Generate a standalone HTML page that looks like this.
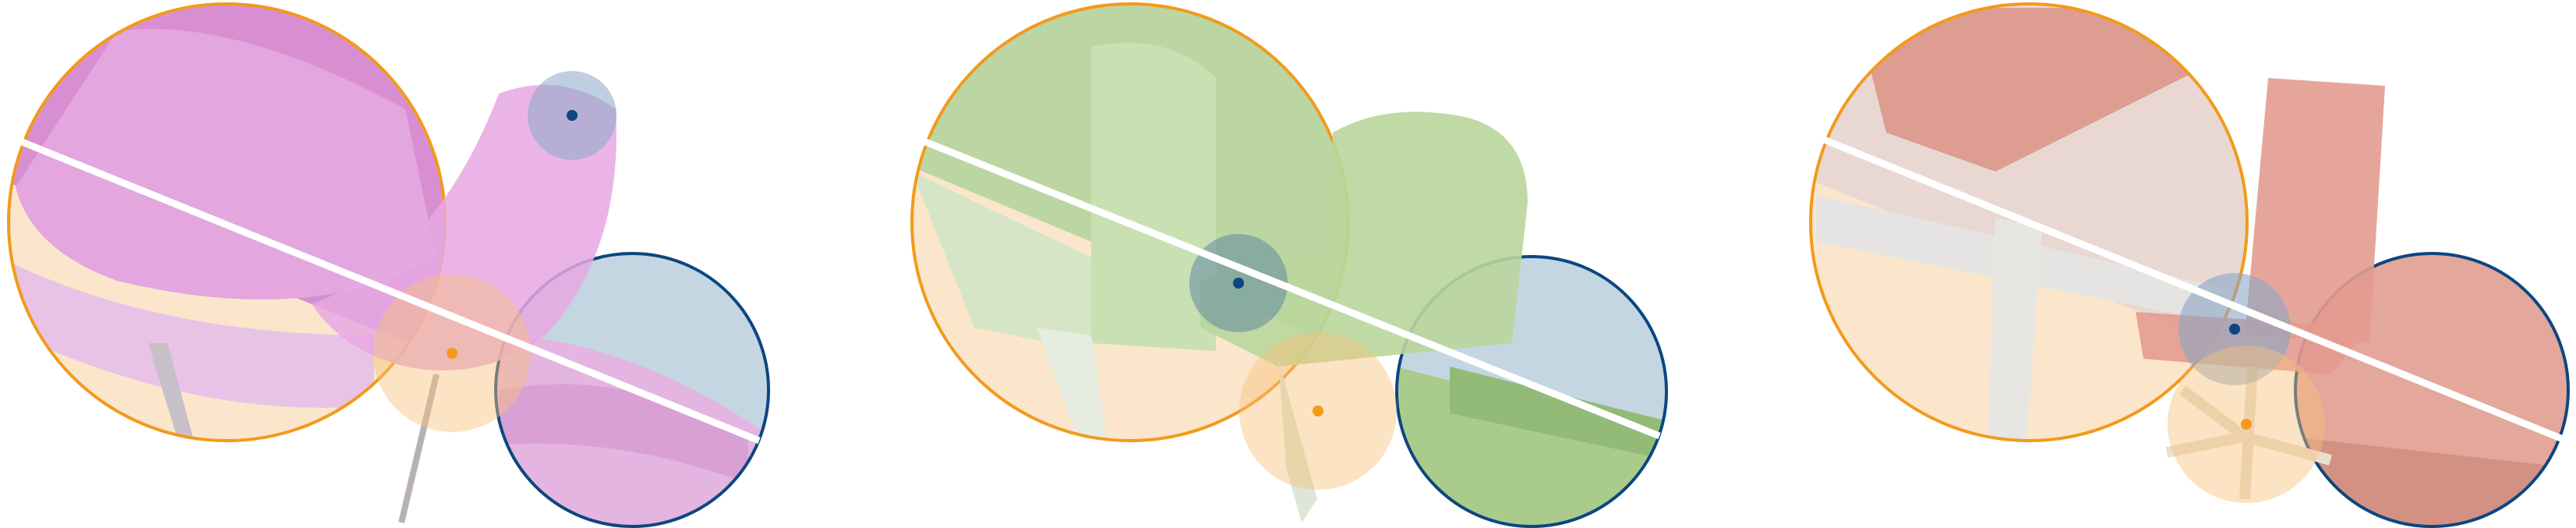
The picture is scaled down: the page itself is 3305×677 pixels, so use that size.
<!DOCTYPE html>
<html><head><meta charset="utf-8"><style>
html,body{margin:0;padding:0;background:#fff;}
svg{display:block;}
</style></head><body>
<svg width="3305" height="677" viewBox="0 0 3305 677">
<defs>
<clipPath id="c1"><circle cx="291" cy="285" r="280"/></clipPath>
<clipPath id="c2"><circle cx="811" cy="500" r="175"/></clipPath>
<clipPath id="c3"><circle cx="1450" cy="285" r="280"/></clipPath>
<clipPath id="c4"><circle cx="1965" cy="502" r="173"/></clipPath>
<clipPath id="c5"><circle cx="2603" cy="285" r="280"/></clipPath>
<clipPath id="c6"><circle cx="3120" cy="500" r="175"/></clipPath>
</defs>

<!-- Panel 1 -->
<g>
  <g clip-path="url(#c1)">
    <rect x="0" y="0" width="600" height="600" fill="#fbe6cc"/>
    <path d="M0,0 H600 V470 L0,230 Z" fill="#d88fd2"/>
    <path d="M150,40 Q300,20 520,140 L560,330 Q400,420 150,360 Q40,320 20,240 Z" fill="#e3a6de"/>
    <path d="M0,330 Q200,430 480,430 L480,520 Q250,540 0,420 Z" fill="#e8c3e6"/>
    <path d="M190,440 L230,570 L250,570 L215,440 Z" fill="#c8c0c8"/>
  </g>
  <circle cx="291" cy="285" r="280" fill="none" stroke="#f29a1a" stroke-width="4"/>
  <g clip-path="url(#c2)">
    <rect x="630" y="320" width="370" height="370" fill="#c5d6e3"/>
    <path d="M630,430 Q800,430 990,560 L990,680 L630,680 Z" fill="#e3b5e0"/>
    <path d="M640,500 Q800,470 960,560 L960,620 Q800,560 640,570 Z" fill="#d9a0d6"/>
  </g>
  <circle cx="811" cy="500" r="175" fill="none" stroke="#0d4680" stroke-width="4"/>
  <path d="M640,120 Q720,90 790,140 Q800,320 700,430 Q620,490 520,470 Q440,450 400,390 Q560,330 640,120 Z" fill="#e6a8e2" opacity="0.85"/>
  <line x1="560" y1="480" x2="515" y2="670" stroke="#b8b0b8" stroke-width="8"/>
  <circle cx="734" cy="148" r="57" fill="#8aa7c4" opacity="0.55"/>
  <circle cx="734" cy="148" r="7" fill="#0d4680"/>
  <circle cx="580" cy="453" r="101" fill="#f6c07a" opacity="0.45"/>
  <circle cx="580" cy="453" r="7" fill="#f29a1a"/>
  <line x1="21" y1="179" x2="974" y2="565" stroke="#fff" stroke-width="9"/>
</g>

<!-- Panel 2 -->
<g>
  <g clip-path="url(#c3)">
    <rect x="1160" y="0" width="600" height="600" fill="#fbe6cc"/>
    <path d="M1160,0 H1760 V460 L1160,210 Z" fill="#bcd6a3"/>
    <path d="M1400,60 Q1500,40 1560,100 L1560,450 L1400,440 Z" fill="#c9e0b3"/>
    <path d="M1170,220 L1400,330 L1400,450 L1250,420 Z" fill="#d7e5c7"/>
    <path d="M1330,420 L1400,430 L1420,560 L1390,580 Z" fill="#e6ece0"/>
  </g>
  <circle cx="1450" cy="285" r="280" fill="none" stroke="#f29a1a" stroke-width="4"/>
  <g clip-path="url(#c4)">
    <rect x="1790" y="320" width="360" height="370" fill="#c5d6e3"/>
    <path d="M1790,470 L2140,560 L2140,680 L1790,680 Z" fill="#a9cc8d"/>
    <path d="M1860,470 L2140,540 L2140,590 L1860,530 Z" fill="#93bb78"/>
  </g>
  <circle cx="1965" cy="502" r="173" fill="none" stroke="#0d4680" stroke-width="4"/>
  <path d="M1710,170 Q1780,130 1880,150 Q1960,170 1960,260 L1940,440 L1640,470 L1540,420 L1540,360 Q1620,330 1700,340 Z" fill="#b9d69c" opacity="0.9"/>
  <path d="M1640,460 L1690,640 L1670,670 L1650,600 Z" fill="#dfe6d6"/>
  <circle cx="1589" cy="363" r="63" fill="#5f8aa0" opacity="0.55"/>
  <circle cx="1589" cy="363" r="7" fill="#0d4680"/>
  <circle cx="1691" cy="527" r="101" fill="#f6c07a" opacity="0.45"/>
  <circle cx="1691" cy="527" r="7" fill="#f29a1a"/>
  <line x1="1180" y1="179" x2="2129" y2="559" stroke="#fff" stroke-width="9"/>
</g>

<!-- Panel 3 -->
<g>
  <g clip-path="url(#c5)">
    <rect x="2320" y="0" width="600" height="600" fill="#fbe6cc"/>
    <path d="M2320,0 H2920 V470 L2320,230 Z" fill="#e9d8d2"/>
    <path d="M2380,10 L2800,10 L2820,90 L2560,220 L2420,170 Z" fill="#dd9d90"/>
    <path d="M2330,250 L2900,380 L2880,420 L2330,310 Z" fill="#e6e4e2"/>
    <path d="M2560,280 L2620,290 L2600,570 L2550,570 Z" fill="#e8e6e3"/>
  </g>
  <circle cx="2603" cy="285" r="280" fill="none" stroke="#f29a1a" stroke-width="4"/>
  <g clip-path="url(#c6)">
    <rect x="2940" y="320" width="360" height="370" fill="#e4a79b"/>
    <path d="M2940,560 L3300,600 L3300,680 L2940,680 Z" fill="#d39184"/>
  </g>
  <circle cx="3120" cy="500" r="175" fill="none" stroke="#0d4680" stroke-width="4"/>
  <path d="M2910,100 L3060,110 L3040,440 L2880,430 Z" fill="#e39b90" opacity="0.9"/>
  <path d="M2740,400 L3040,420 L2990,480 L2750,460 Z" fill="#e39b90" opacity="0.9"/>
  <path d="M2890,470 L2880,640 M2880,560 L2780,580 M2880,560 L2990,590 M2880,560 L2800,500" stroke="#e9dfcf" stroke-width="14" fill="none"/>
  <circle cx="2867" cy="422" r="72" fill="#8aa7c4" opacity="0.6"/>
  <circle cx="2867" cy="422" r="7" fill="#0d4680"/>
  <circle cx="2882" cy="544" r="101" fill="#f6c07a" opacity="0.45"/>
  <circle cx="2882" cy="544" r="7" fill="#f29a1a"/>
  <line x1="2340" y1="179" x2="3293" y2="565" stroke="#fff" stroke-width="9"/>
</g>
</svg>
</body></html>
